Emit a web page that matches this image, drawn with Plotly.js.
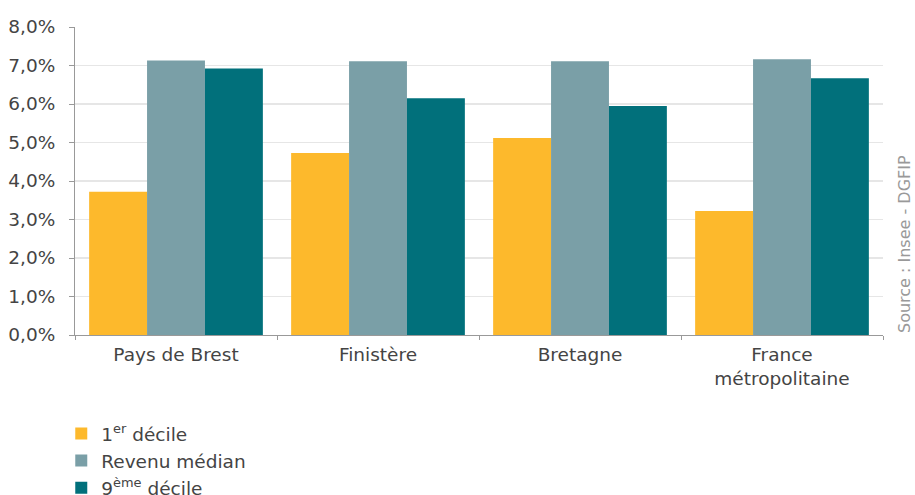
<!DOCTYPE html>
<html><head><meta charset="utf-8">
<script src="https://cdn.plot.ly/plotly-3.0.1.min.js"></script>
<style>html,body{margin:0;padding:0;background:#fff;}#chart{width:915px;height:495px;}</style>
</head><body><div id="chart"></div>
<script>
const categories = ["Pays de Brest", "Finistère", "Bretagne", "France<br>métropolitaine"];
const decile1 = [3.72, 4.73, 5.12, 3.22];
const median = [7.13, 7.11, 7.11, 7.16];
const decile9 = [6.92, 6.15, 5.95, 6.67];
const seriesNames = ["1<sup>er</sup> décile", "Revenu médian", "9<sup>ème</sup> décile"];
const colors = ["#fdb92c", "#7a9fa7", "#01707b"];
const tickVals = [0,1,2,3,4,5,6,7,8];
const tickText = ["0,0%","1,0%","2,0%","3,0%","4,0%","5,0%","6,0%","7,0%","8,0%"];
const source = "Source : Insee - DGFIP";

const font = "'DejaVu Sans', sans-serif";
const traces = [decile1, median, decile9].map((v,i)=>({
  type:"bar", x:categories, y:v, name:seriesNames[i],
  marker:{color:colors[i], line:{width:0}}, hoverinfo:"skip"
}));
const layout = {
  width:915, height:495,
  margin:{l:75, r:32, t:27, b:160},
  paper_bgcolor:"#fff", plot_bgcolor:"#fff",
  font:{family:font, color:"#444", size:18},
  barmode:"group", bargap:0.14, bargroupgap:0,
  xaxis:{showline:true, linecolor:"#999", linewidth:1, ticks:"outside", tickson:"boundaries",
         ticklen:4, tickcolor:"#999", tickfont:{size:18.5, color:"#444"}, showgrid:false,
         ticklabelstandoff:3, automargin:false},
  yaxis:{range:[0,8], tickvals:tickVals, ticktext:tickText, showline:true, linecolor:"#999",
         ticks:"outside", ticklen:5, tickcolor:"#999", gridcolor:"#e6e6e6", gridwidth:1.5,
         tickfont:{size:18.5, color:"#444"}, zeroline:false, ticklabelstandoff:10, automargin:false},
  showlegend:true,
  legend:{orientation:"v", x:-0.017, xanchor:"left", yref:"container", y:1-415/495, yanchor:"top",
          font:{size:18.5, color:"#444"}, tracegroupgap:0, itemclick:false},
  annotations:[{text:source, xref:"paper", yref:"paper", x:1.026, y:0, xanchor:"center", yanchor:"bottom",
     textangle:-90, showarrow:false, font:{size:16, color:"#999"}}]
};
Plotly.newPlot("chart", traces, layout, {displayModeBar:false, staticPlot:true});
</script></body></html>
